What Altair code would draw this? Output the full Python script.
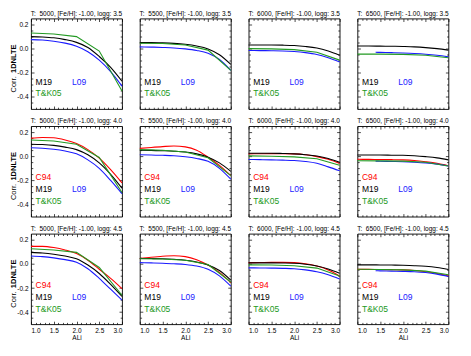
import altair as alt
import pandas as pd

FONT = "Liberation Sans"

TEFFS = [5000, 5500, 6000, 6500]
LOGGS = [3.5, 4.0, 4.5]
MODELS = ["C94", "M19", "L09", "T&K05"]
COLORS = ["#ff0000", "#000000", "#1a1aff", "#229922"]

# ALi grids
G9 = [1.0, 1.25, 1.5, 1.75, 2.0, 2.25, 2.5, 2.75, 3.0]
G5 = [1.0, 1.5, 2.0, 2.5, 3.0]
GL = [1.4, 1.5, 1.75, 2.0, 2.25, 2.5, 2.75, 3.0]

# ---- logg 3.5 ----
M19_5000_35 = [0.100, 0.097, 0.090, 0.075, 0.052, 0.010, -0.065, -0.155, -0.270]
L09_5000_35 = [0.075, 0.072, 0.062, 0.046, 0.020, -0.025, -0.095, -0.190, -0.310]
TK05_5000_35 = [0.130, 0.122, 0.100, -0.020, -0.350]

M19_5500_35 = [0.050, 0.050, 0.048, 0.044, 0.036, 0.022, -0.002, -0.050, -0.130]
L09_5500_35 = [0.015, 0.013, 0.010, 0.006, -0.002, -0.015, -0.038, -0.090, -0.180]
TK05_5500_35 = [0.045, 0.043, 0.030, -0.012, -0.180]

M19_6000_35 = [0.030, 0.030, 0.030, 0.029, 0.026, 0.018, 0.005, -0.020, -0.055]
L09_6000_35 = [-0.015, -0.016, -0.017, -0.019, -0.024, -0.033, -0.048, -0.075, -0.110]
TK05_6000_35 = [0.000, -0.002, -0.008, -0.030, -0.095]

M19_6500_35 = [0.022, 0.022, 0.021, 0.020, 0.018, 0.015, 0.009, 0.000, -0.012]
L09_6500_35 = [-0.030, -0.031, -0.033, -0.036, -0.040, -0.046, -0.055, -0.068]
TK05_6500_35 = [-0.045, -0.045, -0.047, -0.055, -0.075]

# ---- logg 4.0 ----
C94_5000_40 = [0.150, 0.156, 0.153, 0.135, 0.105, 0.055, -0.015, -0.110, -0.220]
M19_5000_40 = [0.100, 0.097, 0.090, 0.076, 0.055, 0.012, -0.055, -0.150, -0.265]
L09_5000_40 = [0.070, 0.067, 0.058, 0.043, 0.020, -0.030, -0.100, -0.200, -0.310]
TK05_5000_40 = [0.135, 0.127, 0.100, -0.010, -0.300]

C94_5500_40 = [0.065, 0.073, 0.080, 0.085, 0.078, 0.050, -0.008, -0.075, -0.160]
M19_5500_40 = [0.050, 0.049, 0.046, 0.042, 0.035, 0.020, -0.008, -0.055, -0.125]
L09_5500_40 = [0.012, 0.011, 0.008, 0.004, -0.004, -0.018, -0.042, -0.100, -0.190]
TK05_5500_40 = [0.055, 0.050, 0.035, -0.012, -0.160]

C94_6000_40 = [0.020, 0.021, 0.022, 0.022, 0.020, 0.012, -0.003, -0.025, -0.060]
M19_6000_40 = [0.025, 0.025, 0.025, 0.023, 0.020, 0.013, 0.002, -0.018, -0.050]
L09_6000_40 = [-0.027, -0.028, -0.030, -0.032, -0.035, -0.043, -0.058, -0.088, -0.120]
TK05_6000_40 = [0.003, 0.000, -0.005, -0.020, -0.075]

C94_6500_40 = [-0.025, -0.026, -0.027, -0.028, -0.030, -0.035, -0.045, -0.058, -0.078]
M19_6500_40 = [0.010, 0.010, 0.010, 0.009, 0.008, 0.004, -0.003, -0.013, -0.030]
L09_6500_40 = [-0.040, -0.041, -0.043, -0.045, -0.049, -0.055, -0.065, -0.080]
TK05_6500_40 = [-0.037, -0.038, -0.040, -0.050, -0.080]

# ---- logg 4.5 ----
C94_5000_45 = [0.145, 0.145, 0.135, 0.115, 0.085, 0.030, -0.045, -0.120, -0.205]
M19_5000_45 = [0.095, 0.090, 0.080, 0.065, 0.042, -0.010, -0.080, -0.170, -0.270]
L09_5000_45 = [0.065, 0.060, 0.050, 0.035, 0.013, -0.040, -0.120, -0.210, -0.300]
TK05_5000_45 = [0.125, 0.115, 0.095, -0.030, -0.260]

C94_5500_45 = [0.045, 0.055, 0.063, 0.067, 0.060, 0.035, -0.010, -0.070, -0.155]
M19_5500_45 = [0.045, 0.044, 0.042, 0.037, 0.030, 0.016, -0.010, -0.055, -0.135]
L09_5500_45 = [0.010, 0.008, 0.005, 0.001, -0.005, -0.018, -0.045, -0.100, -0.185]
TK05_5500_45 = [0.042, 0.040, 0.030, -0.005, -0.150]

C94_6000_45 = [0.010, 0.011, 0.012, 0.012, 0.010, 0.001, -0.018, -0.050, -0.100]
M19_6000_45 = [0.008, 0.008, 0.008, 0.007, 0.005, -0.003, -0.018, -0.042, -0.077]
L09_6000_45 = [-0.033, -0.034, -0.035, -0.037, -0.040, -0.050, -0.065, -0.090, -0.125]
TK05_6000_45 = [-0.008, -0.010, -0.015, -0.035, -0.100]

C94_6500_45 = [-0.045, -0.046, -0.047, -0.048, -0.050, -0.055, -0.065, -0.080, -0.100]
M19_6500_45 = [-0.008, -0.008, -0.009, -0.010, -0.012, -0.015, -0.020, -0.030, -0.046]
L09_6500_45 = [-0.057, -0.058, -0.060, -0.062, -0.065, -0.072, -0.085, -0.104]
TK05_6500_45 = [-0.045, -0.047, -0.050, -0.060, -0.090]

# in-panel labels
LABEL_TEXT = ["C94", "M19", "L09", "T&K05"]
LABEL_X = [1.1, 1.1, 1.9, 1.1]
LABEL_Y = [-0.175, -0.275, -0.275, -0.37]

X_MAJOR = [1.0, 1.5, 2.0, 2.5, 3.0]
X_MINOR = [1.1, 1.2, 1.3, 1.4, 1.6, 1.7, 1.8, 1.9, 2.1, 2.2, 2.3, 2.4, 2.6, 2.7, 2.8, 2.9]
Y_MAJOR = [-0.4, -0.2, 0.0, 0.2]
Y_MINOR = [-0.45, -0.35, -0.3, -0.25, -0.15, -0.1, -0.05, 0.05, 0.1, 0.15]

W, H = 91, 90.5
MAJ, MIN = 3.0, 1.8

xscale = alt.Scale(domain=[1.0, 3.0], nice=False, zero=False)
yscale = alt.Scale(domain=[-0.5, 0.25], nice=False, zero=False)
cscale = alt.Scale(domain=MODELS, range=COLORS)

YLAB = "datum.value < 0 ? '-' + format(-datum.value, '.1f') : format(datum.value, '.1f')"


def series(name, teff, logg):
    return globals().get(f"{name}_{teff}_{int(round(logg * 10))}")


def tick_axis(orient, values, size, labels=False, title=None, **kw):
    args = dict(orient=orient, values=values, tickSize=size, offset=-size,
                domain=False, grid=False, labels=labels, title=title,
                tickColor="black", tickWidth=0.7)
    args.update(kw)
    return alt.Axis(**args)


def panel(teff, logg, row, col):
    smooth = []
    for m in ["C94", "M19", "L09"]:
        vals = series(m, teff, logg)
        if vals is None:
            continue
        grid = GL if (m == "L09" and len(vals) == len(GL)) else G9
        for a, v in zip(grid, vals):
            smooth.append({"model": m, "ali": a, "val": v})
    sdf = pd.DataFrame(smooth)
    gdf = pd.DataFrame({"model": "T&K05", "ali": G5, "val": series("TK05", teff, logg)})

    lab = [dict(label=t, lx=x, ly=y) for t, x, y in zip(LABEL_TEXT, LABEL_X, LABEL_Y)
           if not (t == "C94" and logg == 3.5)]
    ldf = pd.DataFrame(lab)

    bottom = row == len(LOGGS) - 1
    left = col == 0

    xb = tick_axis("bottom", X_MAJOR, MAJ, labels=bottom,
                   title="ALi" if bottom else None,
                   format=".1f", labelFontSize=6.5, labelPadding=3,
                   titleFontSize=6.5, titleFontWeight="normal", titlePadding=1)
    yl = tick_axis("left", Y_MAJOR, MAJ, labels=left, labelExpr=YLAB,
                   labelFontSize=6.5, labelPadding=3)

    layers = [
        alt.Chart(sdf).mark_line(strokeWidth=1.1, interpolate="monotone").encode(
            x=alt.X("ali:Q", scale=xscale, axis=xb),
            y=alt.Y("val:Q", scale=yscale, axis=yl),
            color=alt.Color("model:N", scale=cscale, legend=None),
        ),
        alt.Chart(gdf).mark_line(strokeWidth=1.1).encode(
            x=alt.X("ali:Q", scale=xscale, axis=None),
            y=alt.Y("val:Q", scale=yscale, axis=None),
            color=alt.Color("model:N", scale=cscale, legend=None),
        ),
        alt.Chart(ldf).mark_text(align="left", baseline="middle", fontSize=8.5, font=FONT).encode(
            x=alt.X("lx:Q", scale=xscale, axis=None),
            y=alt.Y("ly:Q", scale=yscale, axis=None),
            text="label:N",
            color=alt.Color("label:N", scale=cscale, legend=None),
        ),
        alt.Chart(gdf).mark_point(opacity=0).encode(
            x=alt.X("ali:Q", scale=xscale, axis=tick_axis("bottom", X_MINOR, MIN)),
            y=alt.Y("val:Q", scale=yscale, axis=tick_axis("left", Y_MINOR, MIN)),
        ),
        alt.Chart(gdf).mark_point(opacity=0).encode(
            x=alt.X("ali:Q", scale=xscale, axis=tick_axis("top", X_MAJOR, MAJ)),
            y=alt.Y("val:Q", scale=yscale, axis=tick_axis("right", Y_MAJOR, MAJ)),
        ),
        alt.Chart(gdf).mark_point(opacity=0).encode(
            x=alt.X("ali:Q", scale=xscale, axis=tick_axis("top", X_MINOR, MIN)),
            y=alt.Y("val:Q", scale=yscale, axis=tick_axis("right", Y_MINOR, MIN)),
        ),
    ]
    if left:
        for txt, ty, wt in [("Corr.", 73.5, "normal"), ("1DNLTE", 54.0, "bold")]:
            layers.append(
                alt.Chart(gdf).mark_point(opacity=0).encode(
                    x=alt.X("ali:Q", scale=xscale, axis=None),
                    y=alt.Y("val:Q", scale=yscale, axis=alt.Axis(
                        orient="left", domain=False, ticks=False, labels=False, grid=False,
                        title=txt, titleX=-16, titleY=ty, titleAngle=270,
                        titleAlign="left", titleBaseline="alphabetic",
                        titleFontSize=7.5, titleFontWeight=wt, titleFont=FONT,
                        titleColor="black")),
                )
            )
    title = f"T:\u00a0 {teff}, [Fe/H]: -1.00, logg: {logg:.1f}"
    return alt.layer(*layers).resolve_axis(x="independent", y="independent").properties(
        width=W, height=H,
        title=alt.TitleParams(title, fontSize=6.5, font=FONT, fontWeight="normal",
                              offset=1, anchor="middle", frame="group", color="black"),
    )


panels = [panel(t, g, r, c) for r, g in enumerate(LOGGS) for c, t in enumerate(TEFFS)]

chart = alt.concat(*panels, columns=4, spacing={"row": 16.6, "column": 17.8},
                   bounds="flush").properties(
    padding={"left": 0, "top": 1.5, "right": 5, "bottom": 5}
).configure_view(stroke="black", strokeWidth=0.9).configure_axis(
    labelFont=FONT, titleFont=FONT, labelColor="black", titleColor="black"
)

chart.save("out.html", embed_options={"renderer": "svg", "actions": False})
